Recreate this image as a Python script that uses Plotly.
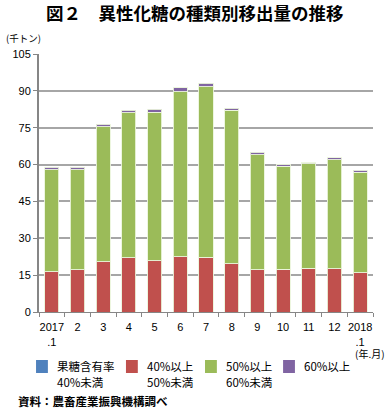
import plotly.graph_objects as go

categories = ["2017<br>.1", "2", "3", "4", "5", "6", "7", "8", "9", "10", "11", "12", "2018<br>.1"]
below40 = [0, 0, 0, 0, 0, 0, 0, 0, 0, 0, 0, 0, 0]
r40_50 = [16.4, 17.2, 20.5, 22.0, 20.9, 22.4, 22.3, 19.7, 17.2, 17.4, 17.9, 17.6, 15.9]
r50_60 = [41.5, 40.7, 54.8, 59.0, 60.4, 67.2, 69.4, 62.4, 46.7, 41.9, 42.4, 44.4, 41.0]
over60 = [1.1, 1.1, 1.2, 1.2, 1.3, 1.7, 1.4, 0.9, 1.1, 0.7, 0.5, 0.7, 0.8]
y_ticks = [0, 15, 30, 45, 60, 75, 90, 105]

legend_line1 = ["果糖含有率", "40%以上", "50%以上", "60%以上"]
legend_line2 = ["40%未満", "50%未満", "60%未満", ""]
colors = ["#4F81BD", "#C0504D", "#9BBB59", "#8064A2"]
series = [below40, r40_50, r50_60, over60]

FONT = "Arial, Liberation Sans, Noto Sans CJK JP"
JP = "Noto Sans CJK JP"

W, H = 387, 411
L, R, T, B = 35, 14, 54, 99
PW, PH = W - L - R, H - T - B


def px(x):
    return (x - L) / PW


def py(y):
    return (H - B - y) / PH


fig = go.Figure()
for l1, l2, col, vals in zip(legend_line1, legend_line2, colors, series):
    fig.add_trace(go.Bar(
        x=categories, y=vals, name=(l1 + " " + l2).strip(), showlegend=False,
        marker=dict(color=col, line=dict(color="rgba(235,245,220,0.9)", width=1)),
    ))

fig.update_layout(
    barmode="stack",
    bargap=0.45,
    width=W, height=H,
    margin=dict(l=L, r=R, t=T, b=B),
    paper_bgcolor="white", plot_bgcolor="white",
    font=dict(family=FONT, size=11, color="#000"),
    showlegend=False,
)

# manual legend
sq_left = [32, 123, 203, 282]
txt_left = [51, 142, 222, 301]
for i, col in enumerate(colors):
    fig.add_shape(type="rect", xref="paper", yref="paper",
                  x0=px(sq_left[i]), x1=px(sq_left[i] + 12), y0=py(373), y1=py(360),
                  fillcolor=col, line=dict(width=0))
    fig.add_annotation(text=legend_line1[i], xref="paper", yref="paper",
                       x=px(txt_left[i]), y=py(366), xanchor="left", yanchor="middle",
                       showarrow=False, font=dict(family=JP, size=11.5))
    if legend_line2[i]:
        fig.add_annotation(text=legend_line2[i], xref="paper", yref="paper",
                           x=px(txt_left[i]), y=py(382), xanchor="left", yanchor="middle",
                           showarrow=False, font=dict(family=JP, size=11.5))

fig.add_annotation(text="<b>図２　異性化糖の種類別移出量の推移</b>", xref="paper", yref="paper",
                   x=px(193), y=py(13), xanchor="center", yanchor="middle", showarrow=False,
                   font=dict(family=JP, size=17.5))
fig.add_annotation(text="(千トン)", xref="paper", yref="paper",
                   x=px(0), y=py(38), xanchor="left", yanchor="middle", showarrow=False,
                   font=dict(family=JP, size=9.5))
fig.add_annotation(text="(年.月)", xref="paper", yref="paper",
                   x=px(387), y=py(353), xanchor="right", yanchor="middle", showarrow=False,
                   font=dict(family=JP, size=10))
fig.add_annotation(text="<b>資料：農畜産業振興機構調べ</b>", xref="paper", yref="paper",
                   x=px(12), y=py(401), xanchor="left", yanchor="middle", showarrow=False,
                   font=dict(family=JP, size=11.5))

fig.update_yaxes(
    range=[0, 105], tickvals=y_ticks, showgrid=True, gridcolor="#A6A6A6", gridwidth=1.5,
    showline=True, linecolor="#868686", linewidth=2, ticks="outside", ticklen=4,
    tickcolor="#868686", zeroline=False, fixedrange=True,
)
fig.update_xaxes(
    showline=True, linecolor="#868686", linewidth=1, ticks="outside", ticklen=4,
    tickcolor="#868686", tickson="boundaries", showgrid=False, fixedrange=True,
    tickangle=0, ticklabelstandoff=5,
)

fig.write_html(
    "out.html",
    config={"displayModeBar": False},
    post_script="document.body.style.margin='0';document.body.style.overflow='hidden';",
)
